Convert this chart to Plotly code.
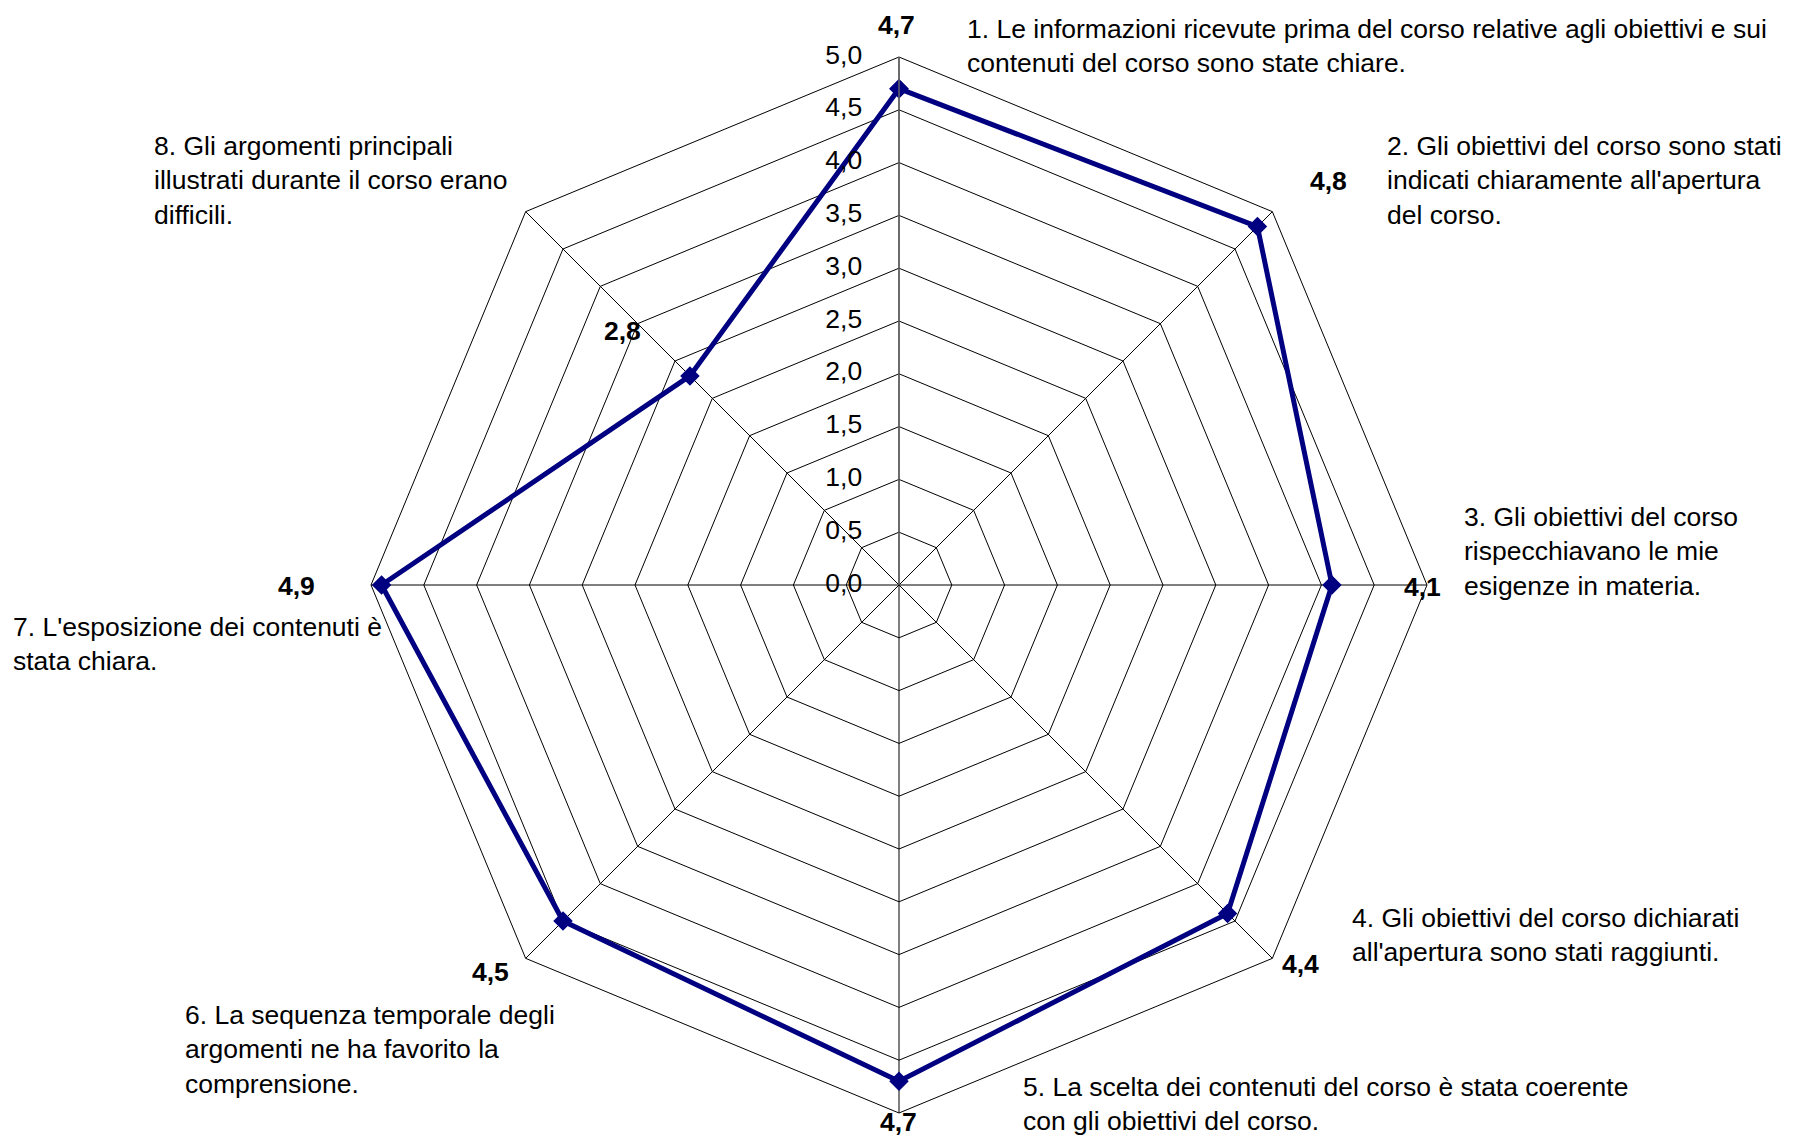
import plotly.graph_objects as go

categories = ["1", "2", "3", "4", "5", "6", "7", "8"]
values = [4.7, 4.8, 4.1, 4.4, 4.7, 4.5, 4.9, 2.8]
value_text = ["4,7", "4,8", "4,1", "4,4", "4,7", "4,5", "4,9", "2,8"]
category_labels = [
    "1. Le informazioni ricevute prima del corso relative agli obiettivi e sui<br>contenuti del corso sono state chiare.",
    "2. Gli obiettivi del corso sono stati<br>indicati chiaramente all'apertura<br>del corso.",
    "3. Gli obiettivi del corso<br>rispecchiavano le mie<br>esigenze in materia.",
    "4. Gli obiettivi del corso dichiarati<br>all'apertura sono stati raggiunti.",
    "5. La scelta dei contenuti del corso è stata coerente<br>con gli obiettivi del corso.",
    "6. La sequenza temporale degli<br>argomenti ne ha favorito la<br>comprensione.",
    "7. L'esposizione dei contenuti è<br>stata chiara.",
    "8. Gli argomenti principali<br>illustrati durante il corso erano<br>difficili.",
]
radial_ticks = [0, 0.5, 1, 1.5, 2, 2.5, 3, 3.5, 4, 4.5, 5]
radial_tick_text = ["0,0", "0,5", "1,0", "1,5", "2,0", "2,5", "3,0", "3,5", "4,0", "4,5", "5,0"]

# layout: label placement (page pixel anchors; the page body has an 8px margin)
OFF = 8
W, H = 1803 - OFF, 1140 - OFF
value_label_px = [(896, 25), (1328, 181), (1422, 587), (1300, 964),
                  (898, 1122), (490, 972), (296, 586), (622, 331)]
label_px = [(966, 46), (1386, 181), (1463, 551), (1351, 935),
            (1022, 1104), (184, 1049), (12, 644), (153, 181)]

FONT = "Liberation Sans, Arial, sans-serif"
NAVY = "#000080"
FS = 26.5
NB = "\u00a0"


def px_to_paper(px, py):
    return (px - OFF) / W, 1 - (py - OFF) / H


fig = go.Figure()
fig.add_trace(go.Scatterpolar(
    r=values + values[:1], theta=categories + categories[:1],
    mode="lines+markers",
    line=dict(color=NAVY, width=5),
    marker=dict(symbol="diamond", size=15, color=NAVY, line=dict(width=0)),
    showlegend=False, hoverinfo="skip",
))
# radial tick labels, drawn horizontally along the first spoke
fig.add_trace(go.Scatterpolar(
    r=[max(v, 1e-6) for v in radial_ticks], theta=[categories[0]] * len(radial_ticks),
    mode="text",
    text=[t + NB * 5 for t in radial_tick_text],
    textposition="middle left",
    textfont=dict(family=FONT, size=FS, color="black"),
    cliponaxis=False, showlegend=False, hoverinfo="skip",
))

annotations = []
for txt, (px, py) in zip(category_labels, label_px):
    x, y = px_to_paper(px, py)
    annotations.append(dict(
        text=txt, x=x, y=y, xref="paper", yref="paper",
        xanchor="left", yanchor="middle", align="left", showarrow=False,
        borderpad=0,
        font=dict(family=FONT, size=FS, color="black"),
    ))
for txt, (px, py) in zip(value_text, value_label_px):
    x, y = px_to_paper(px, py)
    annotations.append(dict(
        text=f"<b>{txt}</b>", x=x, y=y, xref="paper", yref="paper",
        xanchor="center", yanchor="middle", showarrow=False,
        borderpad=0,
        font=dict(family=FONT, size=FS, color="black"),
    ))

cx, cy, R = 899 - OFF, 585 - OFF, 528
fig.update_layout(
    width=W, height=H,
    margin=dict(l=0, r=0, t=0, b=0),
    paper_bgcolor="white",
    separators=",.",
    font=dict(family=FONT, size=FS, color="black"),
    annotations=annotations,
    polar=dict(
        domain=dict(x=[(cx - R) / W, (cx + R) / W], y=[1 - (cy + R) / H, 1 - (cy - R) / H]),
        bgcolor="white",
        gridshape="linear",
        angularaxis=dict(
            type="category", categoryarray=categories,
            rotation=90, direction="clockwise",
            showticklabels=False, ticks="",
            showline=True, linecolor="black", linewidth=1,
            showgrid=True, gridcolor="black", gridwidth=1,
        ),
        radialaxis=dict(
            range=[0, 5], tickvals=radial_ticks,
            angle=90, showticklabels=False, ticks="",
            showline=True, linecolor="#666666", linewidth=1.5,
            showgrid=True, gridcolor="black", gridwidth=1,
        ),
    ),
)

fig.write_html("out.html")
